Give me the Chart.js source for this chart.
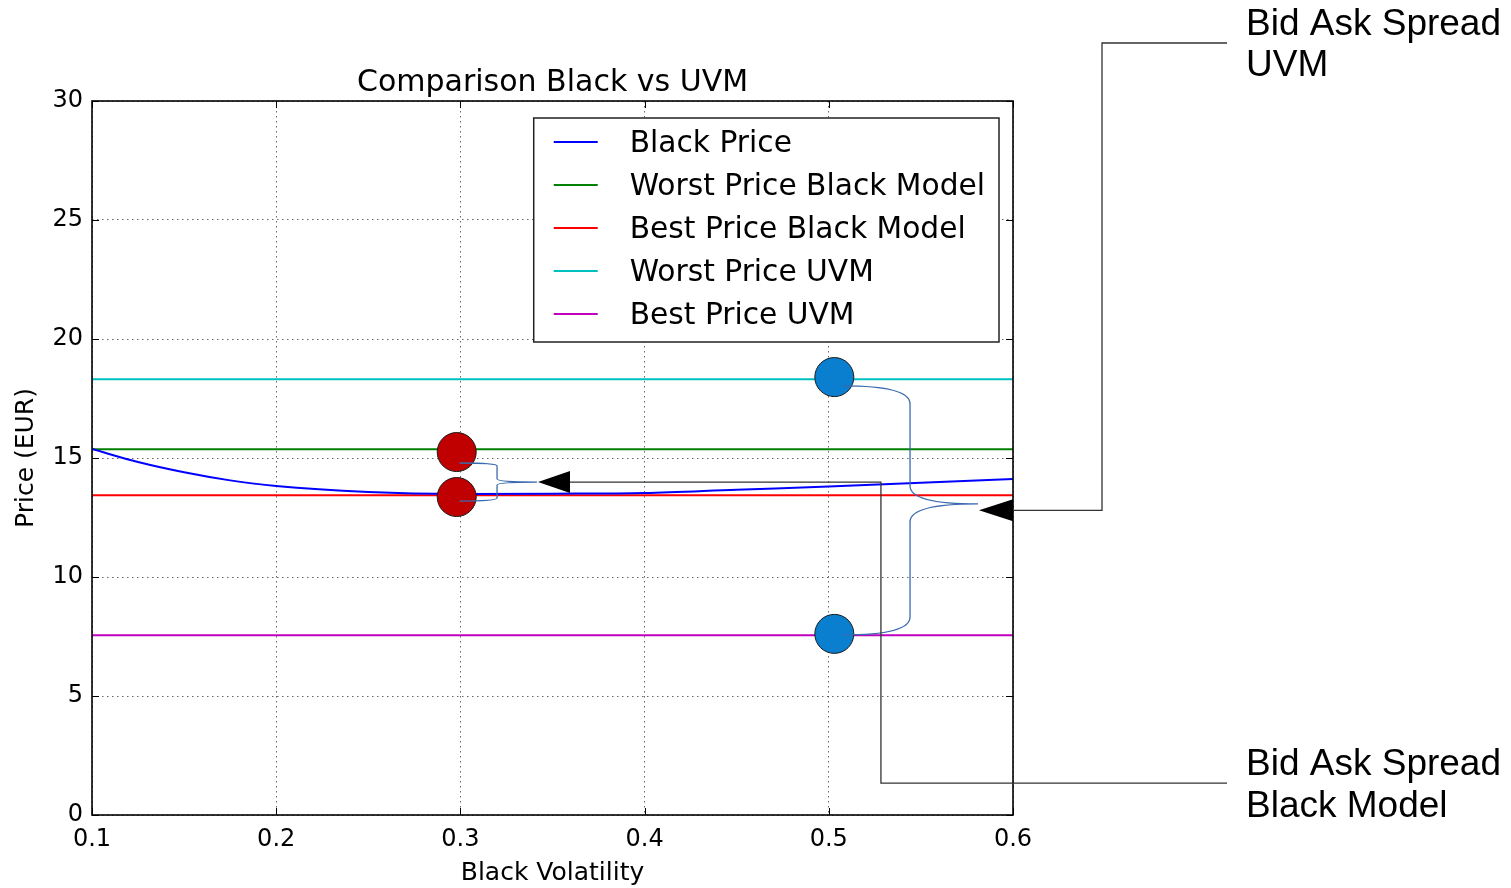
<!DOCTYPE html>
<html>
<head>
<meta charset="utf-8">
<script src="https://cdn.jsdelivr.net/npm/chart.js@4.4.1/dist/chart.umd.min.js"></script>
<style>
html,body{margin:0;padding:0;background:#fff;overflow:hidden}
</style>
</head>
<body>
<canvas id="chart" width="1511" height="888"></canvas>
<script>
// values
const volatility = [0.1, 0.125, 0.15, 0.175, 0.2, 0.25, 0.3, 0.35, 0.4, 0.45, 0.5, 0.55, 0.6];
const blackPrice = [15.38, 14.83, 14.40, 14.06, 13.82, 13.57, 13.49, 13.50, 13.53, 13.67, 13.80, 13.96, 14.12];
const levelX = [0.1, 0.6];
const worstBlack = [15.37, 15.37];
const bestBlack = [13.43, 13.43];
const worstUvm = [18.31, 18.31];
const bestUvm = [7.55, 7.55];
const seriesNames = ['Black Price', 'Worst Price Black Model', 'Best Price Black Model', 'Worst Price UVM', 'Best Price UVM'];
const seriesColors = ['#0000ff', '#008000', '#ff0000', '#00bfbf', '#bf00bf'];

// spread markers (circles)
const blackSpreadX = [0.298, 0.298];
const blackSpreadY = [15.25, 13.36];
const uvmSpreadX = [0.503, 0.503];
const uvmSpreadY = [18.40, 7.61];

const calloutTexts = [['Bid Ask Spread', 'UVM'], ['Bid Ask Spread', 'Black Model']];

const toPoints = (xs, ys) => xs.map((x, i) => ({x: x, y: ys[i]}));

const lineSets = [blackPrice, worstBlack, bestBlack, worstUvm, bestUvm].map((ys, i) => ({
    label: seriesNames[i],
    data: toPoints(i === 0 ? volatility : levelX, ys),
    showLine: true,
    borderColor: seriesColors[i],
    borderWidth: 2,
    pointRadius: 0,
    cubicInterpolationMode: 'monotone',
    order: 1
}));

const markerSet = (xs, ys, color) => ({
    label: '',
    data: toPoints(xs, ys),
    showLine: false,
    pointRadius: 19.5,
    pointHoverRadius: 19.5,
    backgroundColor: color,
    borderColor: '#1a1a1a',
    borderWidth: 1,
    order: 0,
    clip: false
});

// brace + arrow geometry in data units
const braces = [
    {x0: 0.2995, xm: 0.3199, xTip: 0.3416, yTop: 14.79, yMid: 13.99, yBot: 13.19, r: 3, arrowY: 13.99},
    {x0: 0.5077, xm: 0.5441, xTip: 0.5810, yTop: 18.03, yMid: 13.07, yBot: 7.56, r: 18, arrowY: 12.80}
];

function drawBrace(ctx, xs, ys, b){
    const x0 = xs.getPixelForValue(b.x0), xm = xs.getPixelForValue(b.xm), xt = xs.getPixelForValue(b.xTip);
    const yt = ys.getPixelForValue(b.yTop), ym = ys.getPixelForValue(b.yMid), yb = ys.getPixelForValue(b.yBot);
    ctx.beginPath();
    ctx.moveTo(x0, yt);
    ctx.quadraticCurveTo(xm, yt, xm, yt + b.r);
    ctx.lineTo(xm, ym - b.r);
    ctx.quadraticCurveTo(xm, ym, xt, ym);
    ctx.quadraticCurveTo(xm, ym, xm, ym + b.r);
    ctx.lineTo(xm, yb - b.r);
    ctx.quadraticCurveTo(xm, yb, x0, yb);
    ctx.stroke();
}

function drawArrowHead(ctx, tipX, y, len, half){
    ctx.beginPath();
    ctx.moveTo(tipX, y);
    ctx.lineTo(tipX + len, y - half);
    ctx.lineTo(tipX + len, y + half);
    ctx.closePath();
    ctx.fill();
}

const extras = {
    id: 'extras',
    afterDatasetsDraw(chart){
        const ctx = chart.ctx;
        const area = chart.chartArea;
        const xs = chart.scales.x, ys = chart.scales.y;
        ctx.save();

        // frame
        ctx.strokeStyle = '#000';
        ctx.lineWidth = 1.6;
        ctx.strokeRect(area.left, area.top, area.right - area.left, area.bottom - area.top);

        // inward ticks on all sides
        ctx.lineWidth = 1;
        ctx.beginPath();
        xs.ticks.forEach(t => {
            const px = Math.round(xs.getPixelForValue(t.value)) + 0.5;
            ctx.moveTo(px, area.bottom); ctx.lineTo(px, area.bottom - 7);
            ctx.moveTo(px, area.top); ctx.lineTo(px, area.top + 7);
        });
        ys.ticks.forEach(t => {
            const py = Math.round(ys.getPixelForValue(t.value)) + 0.5;
            ctx.moveTo(area.left, py); ctx.lineTo(area.left + 7, py);
            ctx.moveTo(area.right, py); ctx.lineTo(area.right - 7, py);
        });
        ctx.stroke();

        // legend box
        ctx.font = '29.7px "DejaVu Sans"';
        const items = chart.data.datasets.filter(d => d.label);
        const maxW = Math.max(...items.map(d => ctx.measureText(d.label).width));
        const boxW = 96 + maxW + 14;
        const boxH = 224;
        const bx = area.right - 14 - boxW;
        const by = area.top + 17;
        ctx.fillStyle = '#fff';
        ctx.fillRect(bx, by, boxW, boxH);
        ctx.strokeStyle = '#222';
        ctx.lineWidth = 1.5;
        ctx.strokeRect(bx, by, boxW, boxH);
        ctx.textBaseline = 'middle';
        ctx.textAlign = 'left';
        items.forEach((d, i) => {
            const cy = by + 24 + i * 43;
            ctx.strokeStyle = d.borderColor;
            ctx.lineWidth = 2;
            ctx.beginPath();
            ctx.moveTo(bx + 20, cy); ctx.lineTo(bx + 64, cy);
            ctx.stroke();
            ctx.fillStyle = '#000';
            ctx.fillText(d.label, bx + 96, cy + 2);
        });

        // braces
        ctx.strokeStyle = '#3a6aae';
        ctx.lineWidth = 1.3;
        braces.forEach(b => drawBrace(ctx, xs, ys, b));

        // arrows and connector lines
        ctx.fillStyle = '#000';
        const a1x = xs.getPixelForValue(braces[0].xTip) + 1;
        const a1y = ys.getPixelForValue(braces[0].arrowY);
        drawArrowHead(ctx, a1x, a1y, 32, 11);
        const a2x = xs.getPixelForValue(braces[1].xTip) + 1;
        const a2y = ys.getPixelForValue(braces[1].arrowY);
        drawArrowHead(ctx, a2x, a2y, area.right - a2x, 11);

        const elbowX = xs.getPixelForValue(0.5283);
        const elbowY = ys.getPixelForValue(1.34);
        const labelLineEnd = 1227;
        ctx.strokeStyle = '#333';
        ctx.lineWidth = 1.3;
        ctx.beginPath();
        ctx.moveTo(a1x + 32, a1y);
        ctx.lineTo(elbowX, a1y);
        ctx.lineTo(elbowX, elbowY);
        ctx.lineTo(labelLineEnd, elbowY);
        ctx.moveTo(area.right, a2y);
        ctx.lineTo(1102, a2y);
        ctx.lineTo(1102, 43);
        ctx.lineTo(labelLineEnd, 43);
        ctx.stroke();

        // callout texts
        ctx.fillStyle = '#000';
        ctx.font = '37px "Liberation Sans"';
        ctx.textBaseline = 'middle';
        ctx.fillText(calloutTexts[0][0], 1246, 25);
        ctx.fillText(calloutTexts[0][1], 1246, 66);
        ctx.fillText(calloutTexts[1][0], 1246, 765);
        ctx.fillText(calloutTexts[1][1], 1246, 807);
        ctx.restore();
    }
};

Chart.defaults.font.family = '"DejaVu Sans"';
Chart.defaults.color = '#000';

new Chart(document.getElementById('chart'), {
    type: 'scatter',
    data: {
        datasets: [
            markerSet(blackSpreadX, blackSpreadY, '#c00000'),
            markerSet(uvmSpreadX, uvmSpreadY, '#0a7fcf'),
            ...lineSets
        ]
    },
    options: {
        responsive: false,
        animation: false,
        devicePixelRatio: 1,
        layout: {padding: {left: 0, right: 498, top: 0, bottom: 0}},
        plugins: {
            legend: {display: false},
            tooltip: {enabled: false},
            title: {
                display: true,
                text: 'Comparison Black vs UVM',
                fullSize: false,
                font: {size: 30, weight: 'normal'},
                color: '#000',
                padding: {top: 65, bottom: 0}
            }
        },
        scales: {
            x: {
                type: 'linear',
                min: 0.1,
                max: 0.6,
                afterFit: s => { s.height = 73; },
                ticks: {stepSize: 0.1, font: {size: 24}, padding: 10, maxRotation: 0,
                    callback: v => v.toFixed(1)},
                grid: {color: 'rgba(0,0,0,0.6)', lineWidth: 1, drawTicks: false},
                border: {display: false, dash: [1.5, 3.5]},
                title: {display: true, text: 'Black Volatility', font: {size: 25}, padding: {top: 0, bottom: 0}}
            },
            y: {
                min: 0,
                max: 30,
                afterFit: s => { s.width = 92; },
                ticks: {stepSize: 5, font: {size: 24}, padding: 9},
                grid: {color: 'rgba(0,0,0,0.6)', lineWidth: 1, drawTicks: false},
                border: {display: false, dash: [1.5, 3.5]},
                title: {display: true, text: 'Price (EUR)', font: {size: 25}, padding: {top: 11, bottom: 0}}
            }
        }
    },
    plugins: [extras]
});
</script>
</body>
</html>
